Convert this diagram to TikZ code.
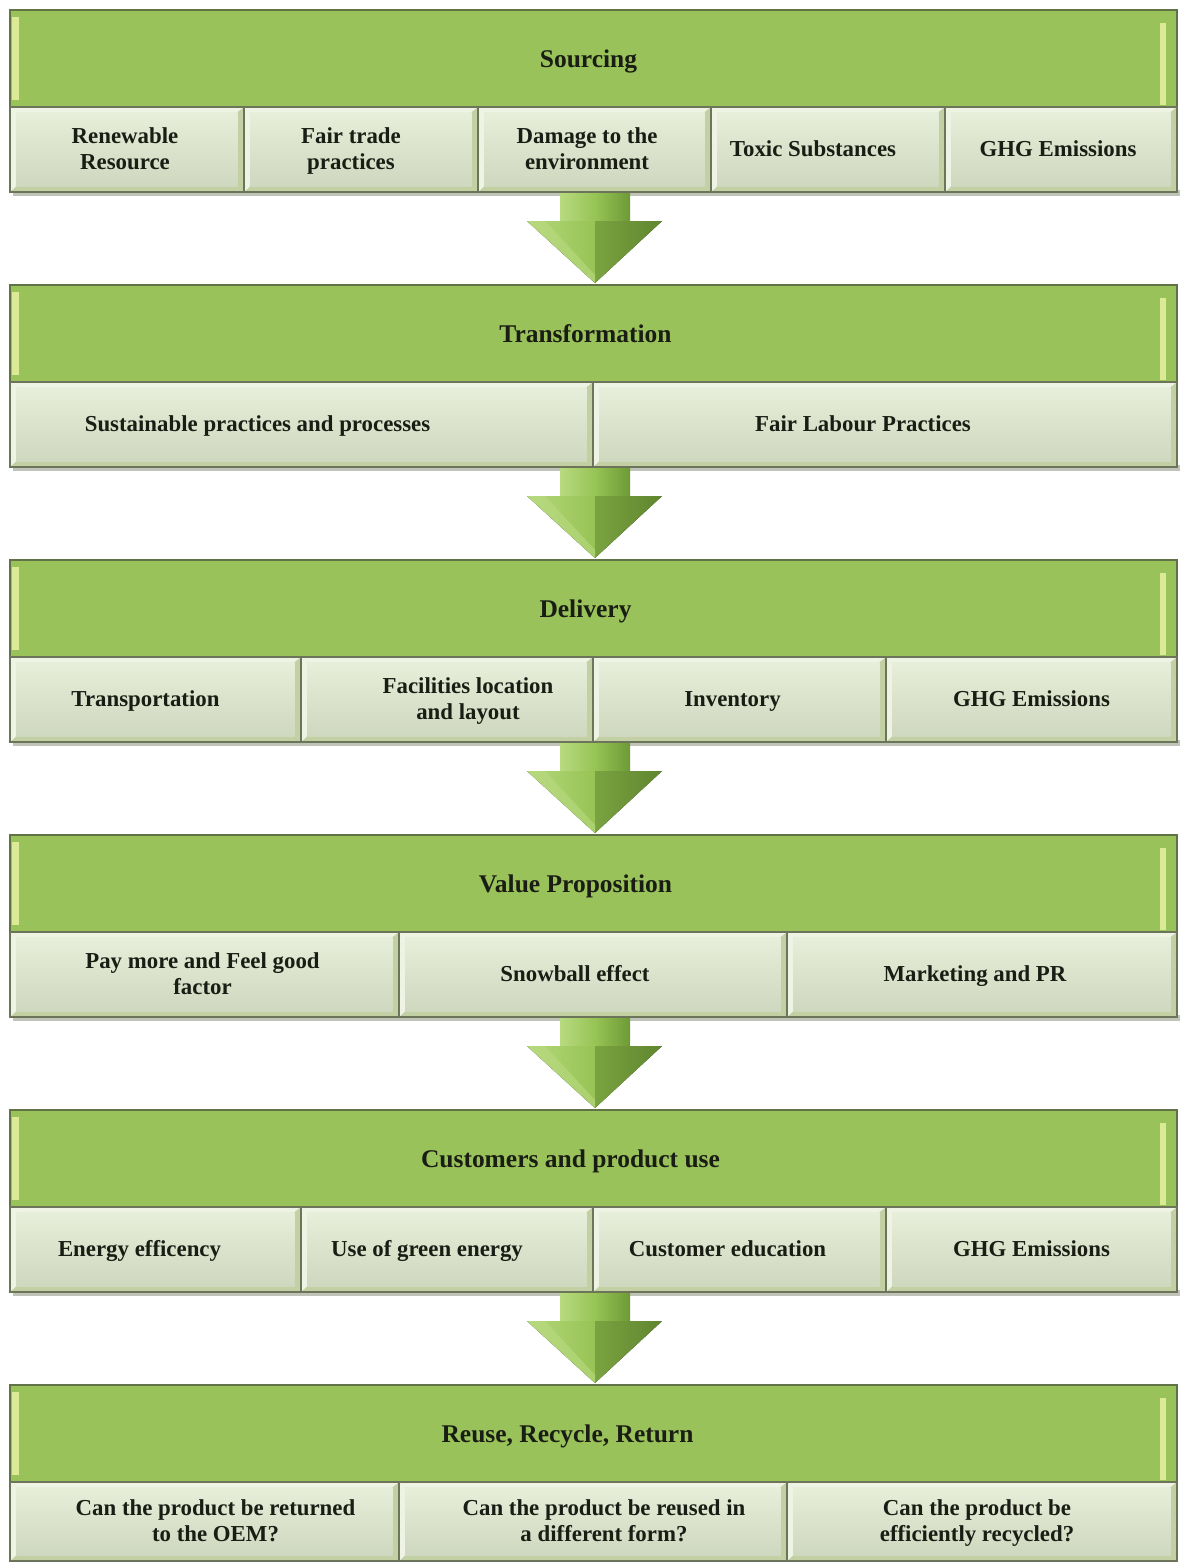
\documentclass[tikz,border=0pt]{standalone}
\usepackage{fontspec}
\setmainfont{Liberation Serif}
\usetikzlibrary{fit,calc}
\definecolor{hdrgreen}{HTML}{9AC25A}
\definecolor{hdredge}{HTML}{617246}
\definecolor{hdrstripe}{HTML}{DCEA98}
\definecolor{subouter}{HTML}{C2D0A4}
\definecolor{sublight}{HTML}{EEF3E3}
\definecolor{subinner}{HTML}{E1EAD0}
\definecolor{subedge}{HTML}{6C755A}
\definecolor{txt}{HTML}{1A1D14}
\definecolor{arrlight}{HTML}{B8DA80}
\definecolor{arrmid}{HTML}{97C455}
\definecolor{arrdark}{HTML}{6E9A36}
\definecolor{shadowgray}{HTML}{BFC3B8}
\tikzset{
  hdr/.style={inner sep=0pt, draw=hdredge, line width=0.9pt, fill=hdrgreen,
    path picture={
      \fill[hdrstripe] ([shift={(0.05cm,-0.14cm)}]path picture bounding box.north west)
        rectangle ([shift={(0.19cm,0.14cm)}]path picture bounding box.south west);
      \fill[hdrstripe] ([shift={(-0.34cm,-0.26cm)}]path picture bounding box.north east)
        rectangle ([shift={(-0.22cm,0.04cm)}]path picture bounding box.south east);
    }},
  sub/.style={inner sep=0pt, draw=subedge, line width=0.9pt, fill=subouter,
    path picture={
      \fill[sublight] (path picture bounding box.north west)
        -- (path picture bounding box.north east)
        -- ([shift={(-0.13cm,-0.1cm)}]path picture bounding box.north east)
        -- ([shift={(0.13cm,-0.1cm)}]path picture bounding box.north west)
        -- ([shift={(0.13cm,0.12cm)}]path picture bounding box.south west)
        -- (path picture bounding box.south west) -- cycle;
      \shade[top color=subinner!80!white, bottom color=subinner!92!black]
        ([shift={(0.13cm,-0.1cm)}]path picture bounding box.north west)
        rectangle ([shift={(-0.13cm,0.12cm)}]path picture bounding box.south east);
    }},
  hdrtext/.style={font=\fontsize{14.5}{15}\selectfont\bfseries, text=txt, inner sep=0pt, yshift=-0.08cm},
  subtext/.style={font=\fontsize{13}{14.5}\selectfont\bfseries, text=txt, align=center, inner sep=0pt, yshift=-0.04cm},
  shaftshade/.style={left color=arrlight, right color=arrdark, middle color=arrmid},
  headshade/.style={left color=arrlight!90!arrmid, right color=arrdark!90!black, middle color=arrmid},
  shadowline/.style={fill=shadowgray}
}
\newcommand\greenarrow[2]{%
  \fill[shaftshade] ($(#1)+(-35,0)$) rectangle ($(#1)+(35,31)$);
  \fill[headshade] ($(#1)+(-68,28)$) -- ($(#1)+(67,28)$) -- (#2) -- cycle;
  \fill[arrdark!85!black, opacity=0.5] ($(#1)+(0,28)$) -- ($(#1)+(67,28)$) -- (#2) -- ($(#1)+(0,45)$) -- cycle;
  \fill[arrlight, opacity=0.6] ($(#1)+(-68,28)$) -- ($(#1)+(-50,28)$) -- ($(#2)+(0,-8)$) -- (#2) -- cycle;
}
\begin{document}
\begin{tikzpicture}[x=0.02cm, y=-0.02cm]
\useasboundingbox (0,0) rectangle (1181,1562);
\fill[white] (0,0) rectangle (1181,1562);

% ---------- Sourcing
\fill[shadowline] (13,190) rectangle (1180,196);
\node[hdr, fit={(10,10)(1177,107)}, label={[hdrtext,xshift=-0.1cm]center:Sourcing\strut}] (h1) {};
\node[sub, fit={(10,107)(244,192)}, label={[subtext,xshift=-0.04cm]center:Renewable\strut\\Resource\strut}] (s1a) {};
\node[sub, fit={(244,107)(478,192)}, label={[subtext,xshift=-0.2cm]center:Fair trade\strut\\practices\strut}] (s1b) {};
\node[sub, fit={(478,107)(711,192)}, label={[subtext,xshift=-0.15cm]center:Damage to the\strut\\environment\strut}] (s1c) {};
\node[sub, fit={(711,107)(945,192)}, label={[subtext,xshift=-0.3cm]center:Toxic Substances\strut}] (s1d) {};
\node[sub, fit={(945,107)(1177,192)}, label={[subtext,xshift=-0.06cm]center:GHG Emissions\strut}] (s1e) {};

% ---------- Transformation
\fill[shadowline] (13,465) rectangle (1180,471);
\node[hdr, fit={(10,285)(1177,382)}, label={[hdrtext,xshift=-0.16cm]center:Transformation\strut}] (h2) {};
\node[sub, fit={(10,382)(593,467)}, label={[subtext,xshift=-0.88cm]center:Sustainable practices and processes\strut}] (s2a) {};
\node[sub, fit={(593,382)(1177,467)}, label={[subtext,xshift=-0.44cm]center:Fair Labour Practices\strut}] (s2b) {};

% ---------- Delivery
\fill[shadowline] (13,740) rectangle (1180,746);
\node[hdr, fit={(10,560)(1177,657)}, label={[hdrtext,xshift=-0.16cm]center:Delivery\strut}] (h3) {};
\node[sub, fit={(10,657)(301,742)}, label={[subtext,xshift=-0.2cm]center:Transportation\strut}] (s3a) {};
\node[sub, fit={(301,657)(593,742)}, label={[subtext,xshift=0.42cm]center:Facilities location\strut\\and layout\strut}] (s3b) {};
\node[sub, fit={(593,657)(886,742)}, label={[subtext,xshift=-0.14cm]center:Inventory\strut}] (s3c) {};
\node[sub, fit={(886,657)(1177,742)}, label={[subtext]center:GHG Emissions\strut}] (s3d) {};

% ---------- Value Proposition
\fill[shadowline] (13,1015) rectangle (1180,1021);
\node[hdr, fit={(10,835)(1177,932)}, label={[hdrtext,xshift=-0.36cm]center:Value Proposition\strut}] (h4) {};
\node[sub, fit={(10,932)(399,1017)}, label={[subtext,xshift=-0.04cm]center:Pay more and Feel good\strut\\factor\strut}] (s4a) {};
\node[sub, fit={(399,932)(787,1017)}, label={[subtext,xshift=-0.36cm]center:Snowball effect\strut}] (s4b) {};
\node[sub, fit={(787,932)(1177,1017)}, label={[subtext,xshift=-0.14cm]center:Marketing and PR\strut}] (s4c) {};

% ---------- Customers and product use
\fill[shadowline] (13,1290) rectangle (1180,1296);
\node[hdr, fit={(10,1110)(1177,1207)}, label={[hdrtext,xshift=-0.46cm]center:Customers and product use\strut}] (h5) {};
\node[sub, fit={(10,1207)(301,1292)}, label={[subtext,xshift=-0.32cm]center:Energy efficency\strut}] (s5a) {};
\node[sub, fit={(301,1207)(593,1292)}, label={[subtext,xshift=-0.4cm]center:Use of green energy\strut}] (s5b) {};
\node[sub, fit={(593,1207)(886,1292)}, label={[subtext,xshift=-0.24cm]center:Customer education\strut}] (s5c) {};
\node[sub, fit={(886,1207)(1177,1292)}, label={[subtext]center:GHG Emissions\strut}] (s5d) {};

% ---------- Reuse, Recycle, Return
\node[hdr, fit={(10,1385)(1177,1482)}, label={[hdrtext,xshift=-0.52cm]center:Reuse, Recycle, Return\strut}] (h6) {};
\node[sub, fit={(10,1482)(399,1561)}, label={[subtext,xshift=0.22cm]center:Can the product be returned\strut\\to the OEM?\strut}] (s6a) {};
\node[sub, fit={(399,1482)(787,1561)}, label={[subtext,xshift=0.22cm]center:Can the product be reused in\strut\\a different form?\strut}] (s6b) {};
\node[sub, fit={(787,1482)(1177,1561)}, label={[subtext,xshift=-0.1cm]center:Can the product be\strut\\efficiently recycled?\strut}] (s6c) {};

% ---------- arrows
\coordinate (a1s) at (595,193);  \coordinate (a1e) at (595,283);
\coordinate (a2s) at (595,468);  \coordinate (a2e) at (595,558);
\coordinate (a3s) at (595,743);  \coordinate (a3e) at (595,833);
\coordinate (a4s) at (595,1018); \coordinate (a4e) at (595,1108);
\coordinate (a5s) at (595,1293); \coordinate (a5e) at (595,1383);
\greenarrow{a1s}{a1e}
\greenarrow{a2s}{a2e}
\greenarrow{a3s}{a3e}
\greenarrow{a4s}{a4e}
\greenarrow{a5s}{a5e}
\end{tikzpicture}
\end{document}
